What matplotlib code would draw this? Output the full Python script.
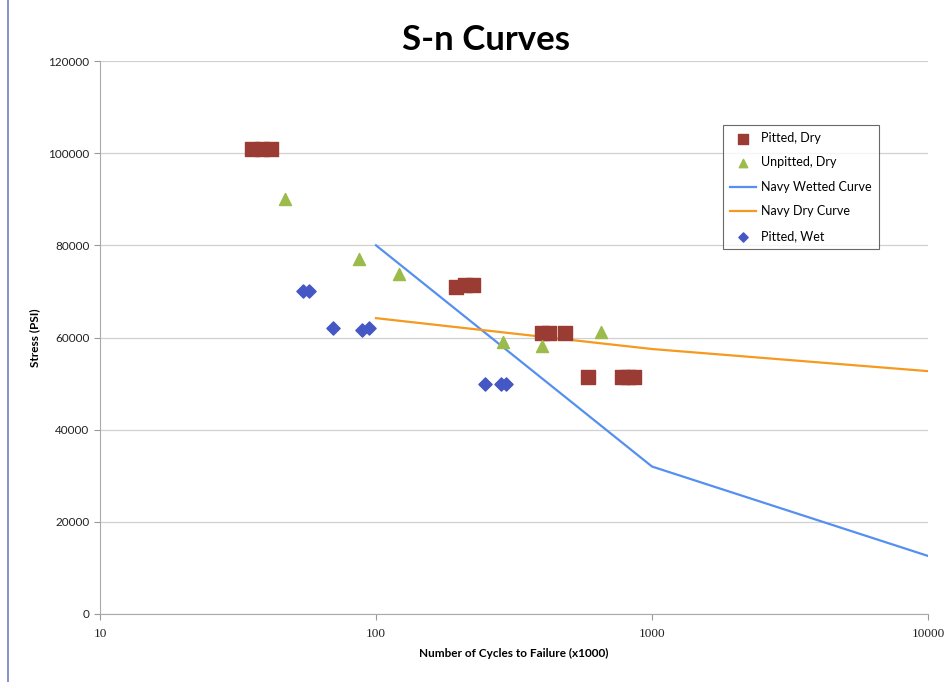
import matplotlib.pyplot as plt
from matplotlib.lines import Line2D

# data
pitted_dry_x = [35.5, 38.5, 41.5, 195, 210, 225, 400, 425, 485, 585, 780, 820, 860]
pitted_dry_y = [101000, 101000, 101000, 71000, 71500, 71500, 61000, 61000, 61000, 51500, 51500, 51500, 51500]

unpitted_dry_x = [47, 87, 121, 288, 400, 655]
unpitted_dry_y = [90000, 77000, 73800, 59000, 58200, 61200]

pitted_wet_x = [54.5, 57, 70, 89, 94, 248, 284, 296]
pitted_wet_y = [70000, 70000, 62000, 61700, 62000, 50000, 50000, 50000]

navy_wet_x = [100, 1000, 10000]
navy_wet_y = [80000, 32000, 12600]

navy_dry_x = [100, 1000, 10000]
navy_dry_y = [64200, 57500, 52700]

plt.rcParams['font.family'] = ['Lato', 'DejaVu Sans']

fig = plt.figure(figsize=(9.52, 6.82), dpi=100)
ax = fig.add_axes([100/952, 1-614/682, 828/952, 553/682])

ax.plot(navy_wet_x, navy_wet_y, color="#5590f0", linewidth=1.6, label="Navy Wetted Curve", zorder=2)
ax.plot(navy_dry_x, navy_dry_y, color="#f59a1e", linewidth=1.6, label="Navy Dry Curve", zorder=2)
ax.scatter(pitted_dry_x, pitted_dry_y, marker="s", s=95, color="#9a3b34", label="Pitted, Dry", zorder=3)
ax.scatter(unpitted_dry_x, unpitted_dry_y, marker="^", s=75, color="#9bbb4a", label="Unpitted, Dry", zorder=3)
ax.scatter(pitted_wet_x, pitted_wet_y, marker="D", s=45, color="#4457c4", label="Pitted, Wet", zorder=3)

ax.set_xscale("log")
ax.set_xlim(10, 10000)
ax.set_ylim(0, 120000)
ax.set_yticks(range(0, 120001, 20000))
ax.set_xticks([10, 100, 1000, 10000])
ax.set_xticklabels(["10", "100", "1000", "10000"], family="Liberation Serif", fontsize=9.5)
ax.minorticks_off()
ax.tick_params(axis="y", labelsize=8.5, length=4, color="#999999", colors="#222222")
ax.tick_params(axis="x", length=4, color="#999999", colors="#222222", pad=6)
ax.yaxis.grid(True, color="#d0d0d0", linewidth=0.9)
ax.set_axisbelow(True)
for side in ["top", "right"]:
    ax.spines[side].set_visible(False)
for side in ["left", "bottom"]:
    ax.spines[side].set_color("#aaaaaa")

ax.set_xlabel("Number of Cycles to Failure (x1000)", fontsize=8.5, fontweight="bold", labelpad=6)
ax.set_ylabel("Stress (PSI)", fontsize=8.5, fontweight="bold", labelpad=6)
fig.text(486/952, 1-40/682, "S-n Curves", ha="center", va="center", fontsize=25, fontweight="bold")

handles, labels = ax.get_legend_handles_labels()
order = ["Pitted, Dry", "Unpitted, Dry", "Navy Wetted Curve", "Navy Dry Curve", "Pitted, Wet"]
hmap = dict(zip(labels, handles))
leg = ax.legend([hmap[k] for k in order], order, loc="upper left",
                bbox_to_anchor=((723-100)/828, (614-125)/553), fontsize=9,
                frameon=True, fancybox=False, edgecolor="#444444", borderpad=0.55,
                labelspacing=1.0, handlelength=2.1, markerscale=0.7, handletextpad=0.4,
                borderaxespad=0)
leg.get_frame().set_linewidth(0.8)

# left border of the original image
fig.add_artist(Line2D([8/952, 8/952], [0, 1], color="#7080c0", linewidth=1.2))

plt.savefig("out.png", dpi=100)
plt.close()
